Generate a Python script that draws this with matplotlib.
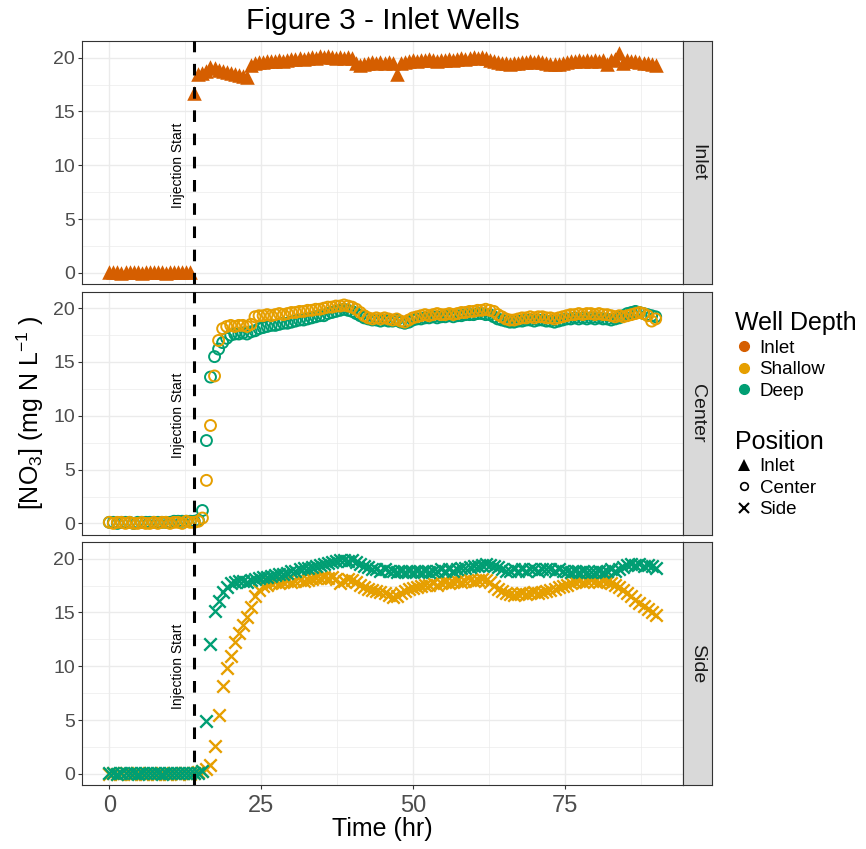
"""
Figure 3 - inlet wells: nitrate over time by well position and depth
"""

import numpy as np
import matplotlib.pyplot as plt
from matplotlib.lines import Line2D

plt.rcParams['font.family'] = ['Liberation Sans', 'DejaVu Sans']
plt.rcParams['mathtext.fontset'] = 'custom'
plt.rcParams['mathtext.rm'] = 'Liberation Sans'
plt.rcParams['mathtext.it'] = 'Liberation Sans:italic'

# samples every 40 min, 0 - 90 hr
time_hr = np.arange(136) * 40 / 60
injection_hr = 14

inlet_inlet = [
    0.1, 0.1, 0.1, 0.0, 0.1, 0.1, 0.1, 0.1, 0.0, 0.1,
    0.1, 0.1, 0.1, 0.1, 0.0, 0.1, 0.1, 0.1, 0.1, 0.1,
    0.1, 16.7, 18.5, 18.6, 18.8, 19.1, 19.0, 18.9, 18.8, 18.7,
    18.6, 18.5, 18.4, 18.3, 18.2, 19.3, 19.5, 19.6, 19.6, 19.7,
    19.7, 19.7, 19.8, 19.7, 19.8, 19.9, 19.9, 20.0, 19.9, 20.0,
    20.1, 20.0, 20.2, 20.1, 20.2, 20.1, 20.0, 20.1, 20.0, 20.1,
    20.0, 19.5, 19.3, 19.4, 19.5, 19.6, 19.5, 19.6, 19.5, 19.6,
    19.5, 18.5, 19.5, 19.6, 19.7, 19.8, 19.7, 19.8, 19.8, 19.9,
    19.8, 19.7, 19.8, 19.8, 19.9, 19.8, 19.9, 20.0, 19.9, 20.0,
    20.1, 20.0, 20.1, 20.0, 19.8, 19.7, 19.6, 19.5, 19.5, 19.4,
    19.5, 19.5, 19.6, 19.6, 19.7, 19.6, 19.7, 19.6, 19.5, 19.4,
    19.4, 19.4, 19.5, 19.6, 19.7, 19.7, 19.8, 19.7, 19.8, 19.7,
    19.8, 19.7, 19.8, 19.4, 19.8, 19.9, 20.4, 19.5, 19.8, 19.7,
    19.7, 19.6, 19.5, 19.5, 19.4, 19.3,
]

center_shallow = [
    0.1, 0.0, 0.1, 0.1, 0.0, 0.1, 0.0, 0.0, 0.1, 0.0,
    0.0, 0.1, 0.0, 0.1, 0.1, 0.0, 0.1, 0.1, 0.0, 0.2,
    0.1, 0.1, 0.2, 0.5, 4.0, 9.1, 13.7, 17.0, 18.1, 18.3,
    18.4, 18.3, 18.4, 18.4, 18.3, 18.5, 19.2, 19.3, 19.3, 19.4,
    19.3, 19.4, 19.5, 19.4, 19.5, 19.6, 19.6, 19.7, 19.7, 19.8,
    19.8, 19.9, 19.9, 20.0, 20.1, 20.1, 20.2, 20.2, 20.3, 20.2,
    20.1, 19.9, 19.6, 19.3, 19.1, 19.0, 19.1, 19.0, 19.1, 19.0,
    18.9, 19.0, 18.8, 18.7, 18.9, 19.1, 19.2, 19.3, 19.4, 19.3,
    19.4, 19.5, 19.4, 19.4, 19.5, 19.4, 19.5, 19.6, 19.6, 19.7,
    19.7, 19.8, 19.8, 19.9, 19.8, 19.7, 19.4, 19.2, 19.0, 18.9,
    18.9, 19.0, 19.1, 19.1, 19.2, 19.1, 19.2, 19.2, 19.1, 19.1,
    19.0, 19.1, 19.2, 19.3, 19.4, 19.4, 19.5, 19.4, 19.5, 19.5,
    19.4, 19.5, 19.4, 19.4, 19.3, 19.2, 19.3, 19.2, 19.3, 19.4,
    19.5, 19.6, 19.5, 19.3, 18.8, 19.0,
]

center_deep = [
    0.1, 0.1, 0.0, 0.1, 0.1, 0.1, 0.0, 0.1, 0.1, 0.1,
    0.1, 0.1, 0.1, 0.1, 0.1, 0.1, 0.2, 0.2, 0.2, 0.2,
    0.2, 0.2, 0.3, 1.2, 7.7, 13.6, 15.5, 16.2, 16.8, 17.2,
    17.5, 17.6, 17.6, 17.7, 17.6, 17.8, 17.9, 18.1, 18.2, 18.3,
    18.4, 18.4, 18.5, 18.6, 18.6, 18.7, 18.8, 18.9, 18.9, 19.0,
    19.1, 19.2, 19.3, 19.3, 19.5, 19.6, 19.7, 19.8, 19.9, 19.8,
    19.7, 19.5, 19.3, 19.1, 19.0, 18.9, 18.9, 18.8, 18.9, 18.8,
    18.8, 18.9, 18.7, 18.6, 18.7, 18.9, 19.0, 19.0, 19.1, 19.1,
    19.2, 19.1, 19.2, 19.2, 19.3, 19.2, 19.3, 19.3, 19.4, 19.4,
    19.4, 19.5, 19.5, 19.4, 19.4, 19.2, 19.0, 18.9, 18.8, 18.7,
    18.7, 18.8, 18.8, 18.9, 18.9, 18.8, 18.9, 18.9, 18.8, 18.8,
    18.7, 18.8, 18.9, 19.0, 19.0, 19.1, 19.0, 19.1, 19.0, 19.1,
    19.0, 19.1, 19.0, 19.0, 18.9, 19.0, 19.1, 19.3, 19.5, 19.6,
    19.7, 19.6, 19.5, 19.4, 19.3, 19.2,
]

side_shallow = [
    0.0, 0.1, 0.0, 0.0, 0.1, 0.0, 0.0, 0.1, 0.0, 0.0,
    0.1, 0.0, 0.0, 0.1, 0.0, 0.0, 0.1, 0.0, 0.1, 0.1,
    0.0, 0.1, 0.2, 0.3, 0.5, 0.8, 2.6, 5.5, 8.2, 9.8,
    11.0, 12.3, 13.1, 13.8, 14.6, 15.5, 16.5, 17.1, 17.5, 17.6,
    17.7, 17.8, 17.7, 17.8, 17.9, 17.8, 17.9, 18.0, 17.9, 18.0,
    18.1, 18.2, 18.2, 18.3, 18.2, 18.3, 18.1, 17.7, 17.9, 18.1,
    18.0, 17.8, 17.6, 17.4, 17.2, 17.1, 17.0, 16.9, 16.8, 16.6,
    16.4, 16.5, 16.8, 17.0, 17.2, 17.3, 17.4, 17.5, 17.6, 17.6,
    17.7, 17.6, 17.7, 17.8, 17.7, 17.8, 17.9, 17.8, 17.9, 18.0,
    17.9, 18.0, 18.1, 18.0, 17.8, 17.5, 17.2, 17.0, 16.8, 16.7,
    16.6, 16.7, 16.8, 16.7, 16.8, 16.9, 16.8, 16.9, 17.0, 17.1,
    17.2, 17.4, 17.5, 17.6, 17.7, 17.8, 17.9, 17.8, 17.9, 18.0,
    17.9, 17.8, 17.9, 17.8, 17.7, 17.6, 17.4, 17.1, 16.8, 16.5,
    16.2, 15.9, 15.6, 15.3, 15.0, 14.8,
]

side_deep = [
    0.1, 0.1, 0.0, 0.1, 0.1, 0.1, 0.1, 0.0, 0.1, 0.1,
    0.1, 0.1, 0.1, 0.0, 0.1, 0.1, 0.1, 0.1, 0.1, 0.1,
    0.1, 0.1, 0.1, 0.3, 4.9, 12.1, 15.1, 16.1, 16.9, 17.4,
    17.7, 17.8, 17.9, 17.9, 17.8, 18.0, 18.1, 18.2, 18.3, 18.3,
    18.4, 18.5, 18.6, 18.6, 18.7, 18.9, 18.9, 19.0, 19.1, 19.1,
    19.2, 19.3, 19.4, 19.5, 19.6, 19.7, 19.8, 19.9, 19.9, 19.8,
    19.9, 19.7, 19.5, 19.3, 19.2, 19.0, 19.0, 18.9, 19.0, 18.9,
    18.9, 18.8, 18.9, 18.8, 18.9, 18.8, 18.9, 18.8, 18.9, 18.8,
    18.9, 18.9, 19.0, 18.9, 19.0, 18.9, 19.0, 19.1, 19.1, 19.2,
    19.3, 19.3, 19.4, 19.5, 19.4, 19.3, 19.2, 19.0, 18.9, 18.9,
    19.0, 18.9, 19.0, 18.9, 19.0, 19.0, 18.9, 19.0, 19.0, 19.0,
    18.9, 19.0, 18.9, 18.9, 18.8, 18.9, 18.8, 18.9, 18.8, 18.8,
    18.8, 18.9, 18.8, 18.9, 19.0, 18.9, 19.0, 19.2, 19.4, 19.5,
    19.4, 19.5, 19.3, 19.4, 19.3, 19.1,
]

depth_colors = {'Inlet': '#D55E00', 'Shallow': '#E69F00', 'Deep': '#009E73'}

# facet -> list of (depth, values)
facets = [
    ('Inlet', [('Inlet', inlet_inlet)]),
    ('Center', [('Deep', center_deep), ('Shallow', center_shallow)]),
    ('Side', [('Shallow', side_shallow), ('Deep', side_deep)]),
]
marker_style = {
    'Inlet': dict(marker='^', s=110, linewidths=0),
    'Center': dict(marker='o', s=62, facecolors='none', linewidths=1.4),
    'Side': dict(marker='x', s=80, linewidths=1.7),
}

W, H = 866, 849
def box(l, t, r, b):
    return [l / W, 1 - b / H, (r - l) / W, (b - t) / H]

fig = plt.figure(figsize=(W / 100, H / 100), dpi=100)

rows = [(41, 284), (291.5, 534.5), (542, 785)]
for i, ((name, series), (top, bot)) in enumerate(zip(facets, rows)):
    ax = fig.add_axes(box(82, top, 683, bot))
    for depth, vals in series:
        st = dict(marker_style[name])
        if st.get('facecolors') == 'none':
            st['edgecolors'] = depth_colors[depth]
        else:
            st['color'] = depth_colors[depth]
        ax.scatter(time_hr, vals, zorder=3, **st)
    ax.axvline(injection_hr, color='black', lw=2.2, linestyle=(0, (3.8, 3.8)), zorder=4)
    ax.text(11.3, 10, 'Injection Start', rotation=90, ha='center', va='center',
            fontsize=10, color='black')

    ax.set_xlim(-4.5, 94.5)
    ax.set_ylim(-1.03, 21.55)
    ax.set_xticks([0, 25, 50, 75])
    ax.set_xticks([12.5, 37.5, 62.5, 87.5], minor=True)
    ax.set_yticks([0, 5, 10, 15, 20])
    ax.set_yticks([2.5, 7.5, 12.5, 17.5], minor=True)
    ax.grid(which='major', color='#EBEBEB', lw=1.0)
    ax.grid(which='minor', color='#EBEBEB', lw=0.5)
    ax.set_axisbelow(True)
    ax.tick_params(which='major', length=3, width=0.8, color='#333333',
                   labelcolor='#4D4D4D')
    ax.tick_params(which='minor', length=0)
    ax.tick_params(axis='y', labelsize=14, pad=2)
    ax.tick_params(axis='x', labelsize=17, pad=4)
    if i < 2:
        ax.tick_params(axis='x', bottom=False, labelbottom=False)
    for sp in ax.spines.values():
        sp.set_color('#333333')
        sp.set_linewidth(0.8)

    strip = fig.add_axes(box(683, top, 712, bot))
    strip.set_facecolor('#D9D9D9')
    strip.set_xticks([])
    strip.set_yticks([])
    for sp in strip.spines.values():
        sp.set_color('#333333')
        sp.set_linewidth(0.8)
    strip.text(0.5, 0.5, name, rotation=-90, ha='center', va='center',
               fontsize=14, color='#1A1A1A', transform=strip.transAxes)

fig.text(382.5 / W, 1 - 21 / H, 'Figure 3 - Inlet Wells', ha='center', va='center',
         fontsize=21.5)
fig.text(382.5 / W, 1 - 829 / H, 'Time (hr)', ha='center', va='center', fontsize=18)
fig.text(30 / W, 1 - 413 / H, r'[NO$_3$] (mg N L$^{-1}$ )', ha='center', va='center',
         rotation=90, fontsize=18)

# legends
leg_kw = dict(loc='upper left', frameon=False, fontsize=13.5, title_fontsize=18,
              alignment='left', borderpad=0, borderaxespad=0, handlelength=0.96,
              handletextpad=0.35, labelspacing=0.24)

depth_handles = [Line2D([], [], ls='none', marker='o', ms=7, color=depth_colors[d])
                 for d in ['Inlet', 'Shallow', 'Deep']]
fig.legend(depth_handles, ['Inlet', 'Shallow', 'Deep'], title='Well Depth',
           bbox_to_anchor=(735 / W, 1 - 311 / H), **leg_kw)

pos_handles = [
    Line2D([], [], ls='none', marker='^', ms=8, color='black', markeredgewidth=0),
    Line2D([], [], ls='none', marker='o', ms=5.5, markerfacecolor='none',
           markeredgecolor='black', markeredgewidth=1.2),
    Line2D([], [], ls='none', marker='x', ms=7, color='black', markeredgewidth=1.5),
]
fig.legend(pos_handles, ['Inlet', 'Center', 'Side'], title='Position',
           bbox_to_anchor=(735 / W, 1 - 429.5 / H), **leg_kw)

fig.savefig('out.png', dpi=100)
